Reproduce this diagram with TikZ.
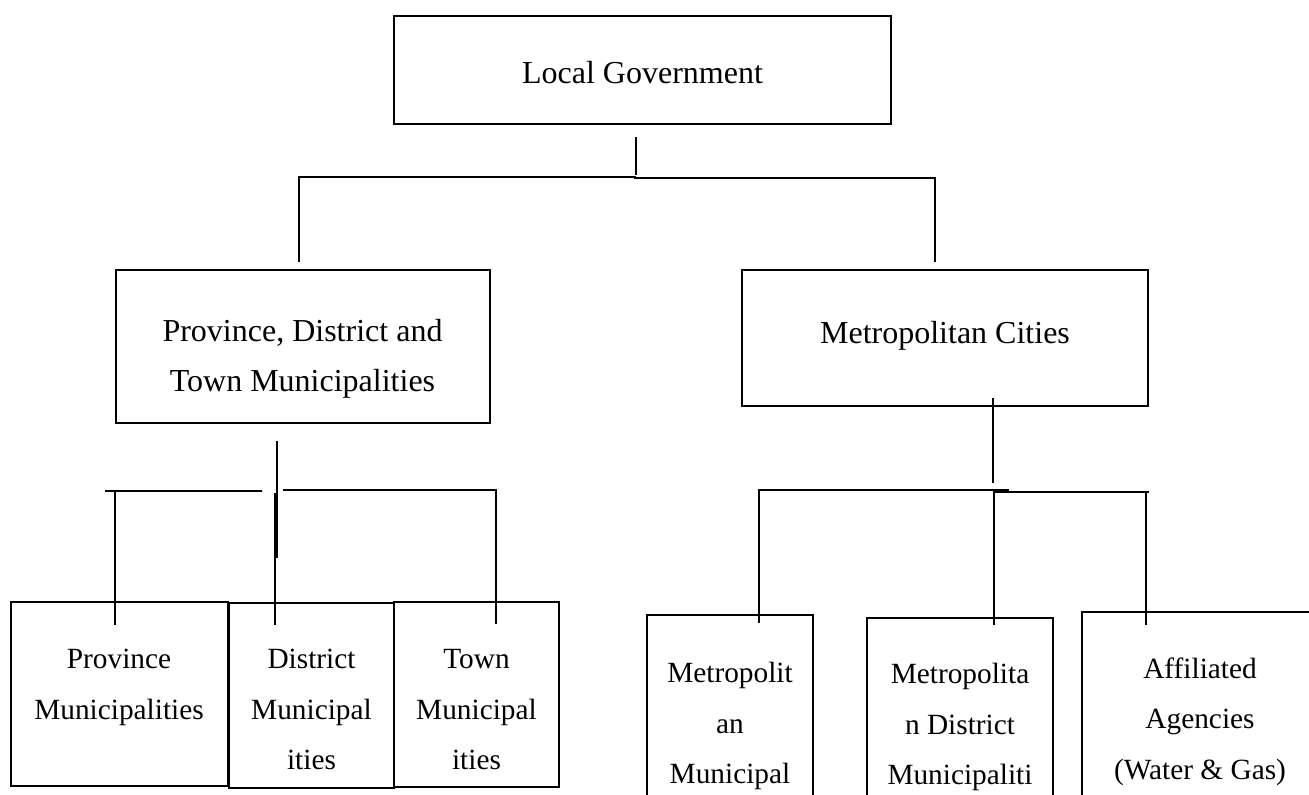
\documentclass[tikz,border=0pt]{standalone}
\usepackage{fontspec}
\setmainfont{Liberation Serif}
\usetikzlibrary{calc}
\begin{document}
\begin{tikzpicture}[x=0.375pt,y=-0.375pt]
  \tikzstyle{box}=[draw,line width=0.75pt,inner sep=0pt,outer sep=0pt]
  \tikzstyle{line}=[draw,line width=0.6pt]
  \tikzstyle{big}=[align=center,inner sep=0pt,anchor=north,font=\fontsize{12}{18.75}\selectfont]
  \tikzstyle{small}=[align=center,inner sep=0pt,anchor=north,font=\fontsize{11}{18.9}\selectfont]
  \useasboundingbox (0,0) rectangle (1309,794);
  \clip (0,0) rectangle (1309,794);
  % boxes
  \node[box,minimum width=186.4pt,minimum height=40.5pt] (lg) at (642.5,70) {};
  \node[box,minimum width=140.25pt,minimum height=57.4pt] (pdtm) at (303,346.5) {};
  \node[box,minimum width=152.25pt,minimum height=51pt] (mc) at (945,338) {};
  \node[box,minimum width=81.4pt,minimum height=69pt] (pm) at (119.5,694) {};
  \node[box,minimum width=61.9pt,minimum height=69.4pt] (dm) at (311.5,695.5) {};
  \node[box,minimum width=61.9pt,minimum height=69.4pt] (tm) at (476.5,694.5) {};
  \node[box,minimum width=62.25pt,minimum height=88.1pt] (mm) at (730,732.5) {};
  \node[box,minimum width=69.75pt,minimum height=87pt] (md) at (960,734) {};
  \node[box,minimum width=88.5pt,minimum height=89.25pt] (aa) at (1200,731) {};
  % texts
  \node[big] (lgtext) at (642.5,61) {Local Government};
  \node[big] (pdtmtext) at (302.5,319) {Province, District and\\Town Municipalities};
  \node[big] (mctext) at (945,321) {Metropolitan Cities};
  \node[small] (pmtext) at (119,649) {Province\\Municipalities};
  \node[small] (dmtext) at (311.5,649) {District\\Municipal\\ities};
  \node[small] (tmtext) at (476.5,649) {Town\\Municipal\\ities};
  \node[small] (mmtext) at (730,662) {Metropolit\\an\\Municipal};
  \node[small] (mdtext) at (960,663) {Metropolita\\n District\\Municipaliti};
  \node[small] (aatext) at (1200,657) {Affiliated\\Agencies\\(Water \& Gas)};
  % first level
  \draw[line] ($(lg.south)+(-6.5,13)$) -- ($(lg.south)+(-6.5,51)$);
  \draw[line] ($(pdtm.north)+(-4,-8)$) |- ($(lg.south)+(-6.5,53)$);
  \draw[line] ($(mc.north)+(-10,-8)$) |- ($(lg.south)+(-8.5,54)$);
  % left branch
  \draw[line] ($(pdtm.south)+(-26,18)$) -- ($(pdtm.south)+(-26,135)$);
  \draw[line] ($(dm.north)+(-36.5,-110)$) -- ($(dm.north)+(-36.5,22)$);
  \draw[line] ($(pm.north)+(-14.5,-111)$) -- ($(pdtm.south)+(-41,68)$);
  \draw[line] ($(pm.north)+(-4.5,-111)$) -- ($(pm.north)+(-4.5,23)$);
  \draw[line] ($(pdtm.south)+(-20,67)$) -| ($(tm.north)+(19.5,22)$);
  % right branch
  \draw[line] ($(mc.south)+(48,-8)$) -- ($(mc.south)+(48,77)$);
  \draw[line] ($(mc.south)+(64,84)$) -| ($(mm.north)+(29,8)$);
  \draw[line] ($(md.north)+(34,7)$) |- ($(aa.north)+(-51,-120)$);
  \draw[line] ($(aa.north)+(-54,-120)$) -- ($(aa.north)+(-54,13)$);
\end{tikzpicture}
\end{document}
